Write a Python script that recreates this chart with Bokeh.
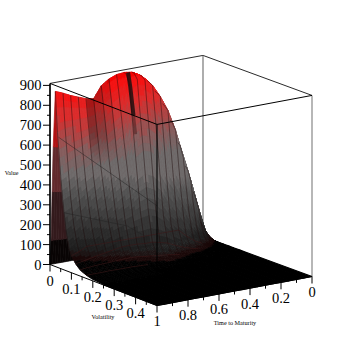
from bokeh.plotting import figure
from bokeh.models import ColumnDataSource
from bokeh.core.properties import value
from bokeh.embed import file_html
from bokeh.resources import INLINE
import numpy as np

# ---- data ----
maturity = [0, .05, .1, .15, .2, .25, .3, .35, .4, .45, .5, .55, .6, .65, .7, .75, .8, .85, .9, .95, 1]
volatility = [0, .005, .01, .015, .025, .035, .05, .06, .075, .09, .1, .12, .14, .17, .2, .25, .5]
z_t000 = [0] * 17
z_t005 = [0, 13, 38, 61, 90, 72, 42, 25, 12, 5, 2, 0, 0, 0, 0, 0, 0]
z_t010 = [0, 35, 105, 170, 250, 225, 175, 110, 50, 20, 10, 3, 0, 0, 0, 0, 0]
z_t015 = [0, 54, 162, 262, 385, 370, 318, 220, 110, 50, 28, 8, 1, 0, 0, 0, 0]
z_t020 = [0, 71, 214, 347, 510, 500, 445, 340, 190, 90, 48, 15, 4, 0, 0, 0, 0]
z_t025 = [0, 88, 265, 428, 630, 620, 588, 470, 290, 140, 78, 25, 6, 0, 0, 0, 0]
z_t030 = [0, 101, 302, 490, 720, 712, 696, 560, 370, 195, 115, 38, 11, 1, 0, 0, 0]
z_t035 = [0, 111, 332, 537, 790, 785, 773, 650, 440, 250, 150, 53, 16, 3, 0, 0, 0]
z_t040 = [0, 119, 357, 578, 850, 845, 835, 710, 520, 320, 200, 72, 22, 5, 0, 0, 0]
z_t045 = [0, 124, 372, 602, 885, 884, 870, 740, 560, 360, 235, 82, 27, 7, 0, 0, 0]
z_t050 = [0, 127, 381, 616, 906, 906, 880, 750, 570, 380, 250, 91, 32, 9, 0, 0, 0]
z_t055 = [0, 128, 383, 620, 912, 905, 860, 720, 540, 360, 240, 91, 36, 11, 1, 0, 0]
z_t060 = [0, 127, 381, 617, 908, 826, 681, 581, 454, 318, 227, 95, 41, 13, 2, 0, 0]
z_t065 = [0, 125, 375, 607, 893, 804, 652, 545, 420, 295, 214, 96, 45, 14, 3, 0, 0]
z_t070 = [0, 121, 364, 589, 866, 771, 624, 520, 390, 268, 204, 95, 45, 16, 3, 0, 0]
z_t075 = [0, 113, 339, 549, 808, 711, 566, 469, 347, 242, 186, 89, 44, 16, 4, 0, 0]
z_t080 = [0, 114, 342, 554, 815, 701, 546, 440, 318, 220, 163, 82, 41, 16, 5, 1, 0]
z_t085 = [0, 116, 349, 564, 830, 697, 523, 415, 291, 191, 141, 75, 40, 17, 6, 1, 0]
z_t090 = [0, 118, 355, 575, 845, 693, 507, 389, 254, 161, 118, 68, 38, 16, 6, 1, 0]
z_t095 = [0, 121, 363, 588, 864, 691, 484, 363, 225, 138, 99, 60, 35, 16, 7, 2, 0]
z_t100 = [0, 123, 370, 598, 880, 678, 466, 343, 202, 114, 85, 53, 31, 16, 7, 2, 0]

z_ticks = [0, 100, 200, 300, 400, 500, 600, 700, 800, 900]
z_minor = [50, 150, 250, 350, 450, 550, 650, 750, 850]
vol_ticks = [0, .1, .2, .3, .4]
vol_minor = [.05, .15, .25, .35, .45]
mat_ticks = [0, .2, .4, .6, .8, 1]
mat_minor = [.1, .3, .5, .7, .9]

# thin lines lying across the surface (maturity, volatility, value)
trace1_t, trace1_v, trace1_z = [1.0, .5], [.04, .143], [656, 282]
trace2_t, trace2_v, trace2_z = [.97, .6, .45], [.044, .075, .074], [274, 168, 80]
# dark fold running down from the top of the dome
fold_t, fold_v, fold_z = [.525, .525, .525], [.025, .035, .05], [909, 841, 704]
fold2_t, fold2_v, fold2_z = [.525, .525], [.05, .06], [704, 613]

# ---- projection of the box: floor corners on the page, height scale ----
Z = np.array([z_t000, z_t005, z_t010, z_t015, z_t020, z_t025, z_t030, z_t035, z_t040, z_t045, z_t050,
              z_t055, z_t060, z_t065, z_t070, z_t075, z_t080, z_t085, z_t090, z_t095, z_t100], dtype=float)
T = np.array(maturity)
V = np.array(volatility)
VMAX, ZTOP = .5, 910.0
C00 = np.array([202.5, 236.0])   # T=0, v=0
C10 = np.array([49.5, 264.0])    # T=1, v=0
C01 = np.array([311.5, 276.0])   # T=0, v=.5
C11 = np.array([156.5, 305.0])   # T=1, v=.5
ZS = .199


def proj(t, v, z=0.0):
    t = np.asarray(t, dtype=float)
    u = np.asarray(v, dtype=float) / VMAX
    z = np.asarray(z, dtype=float)
    x = (1-t)*(1-u)*C00[0] + t*(1-u)*C10[0] + (1-t)*u*C01[0] + t*u*C11[0]
    y = (1-t)*(1-u)*C00[1] + t*(1-u)*C10[1] + (1-t)*u*C01[1] + t*u*C11[1] - ZS*z
    return x, y


# ---- colours: banded by apparent height on the page, as the lit surface looks ----
RZ = [0, 10, 30, 60, 130, 230, 350, 450, 550, 650, 750, 850, 900]
RR = [0, 8, 32, 30, 42, 60, 85, 112, 135, 175, 220, 245, 245]
RG = [0, 2, 10, 28, 42, 60, 85, 108, 95, 70, 45, 20, 5]
RIDGE = 4
NOTCH = {13: .9, 14: .8, 15: .72}


def colour(xm, ym, z, i, j):
    if j < RIDGE:  # back of the wall, seen from below
        step = 50
        q = round(z / step) * step
        r, g = np.interp(q, RZ, RR), np.interp(q, RZ, RG)
        r, g = (r*.8, g*.42) if q > 60 else (r*.3, g*.2)
        return "#%02x%02x%02x" % (int(r), int(g), int(g*1.05))
    app = (263.5 - ym) / ZS
    raw = app
    if app > 450:
        app -= min(1.2 * max(xm - 75, 0), (app - 450))
    c = min(app, 1.6 * z)
    step = 25 if c < 100 else 50
    q = round(c / step) * step
    r, g = np.interp(q, RZ, RR), np.interp(q, RZ, RG)
    s0 = NOTCH.get(i, 1.0)
    s = 1 - (1 - s0) * float(np.clip((raw - 500) / 150, 0, 1))
    return "#%02x%02x%02x" % (int(r*s), int(g*s), int(g*s))


p = figure(width=347, height=347, x_range=(0, 347), y_range=(347, 0), toolbar_location=None,
           output_backend="svg", min_border=0)
p.axis.visible = False
p.grid.visible = False
p.outline_line_color = None
p.background_fill_color = "white"

# back edges of the box
for (a, b, col, w) in [((0, 0, ZTOP), (1, 0, ZTOP), "#2a2a2a", 1), ((0, 0, ZTOP), (0, VMAX, ZTOP), "#2a2a2a", 1),
                       ((0, 0, 0), (0, 0, ZTOP), "#777777", 1.2), ((0, VMAX, 0), (0, VMAX, ZTOP), "#999999", 1.4)]:
    x0, y0 = proj(*a)
    x1, y1 = proj(*b)
    p.line([float(x0), float(x1)], [float(y0), float(y1)], line_color=col, line_width=w)

# surface, painted back to front; each facet is cut into strips only to paint its colour bands
xs, ys, cols, lw = [], [], [], []
for i in range(len(T)-1):
    for j in range(len(V)-1):
        corner = [Z[i, j], Z[i+1, j], Z[i+1, j+1], Z[i, j+1]]
        flat = max(corner) < 3
        nv = 1 if flat or j < RIDGE else 5
        nt = 1 if flat else 3
        for a in range(nt):
            for b in range(nv):
                ss = np.array([a, a+1, a+1, a]) / nt
                rr = np.array([b, b, b+1, b+1]) / nv
                tt = T[i] + (T[i+1]-T[i]) * ss
                vv = V[j] + (V[j+1]-V[j]) * rr
                zz = (corner[0]*(1-ss)*(1-rr) + corner[1]*ss*(1-rr) + corner[2]*ss*rr + corner[3]*(1-ss)*rr)
                x, y = proj(tt, vv, zz)
                xs.append(x.tolist())
                ys.append(y.tolist())
                cols.append(colour(float(x.mean()), float(y.mean()), float(zz.mean()), i, j))
                lw.append(1.2 if flat else .7)
p.patches("x", "y", source=ColumnDataSource(dict(x=xs, y=ys, c=cols, w=lw)), fill_color="c", line_color="c",
          line_width="w")

# dark fold on the dome
x, y = proj(fold_t, fold_v, fold_z)
p.line(x.tolist(), y.tolist(), line_color="#241010", line_alpha=.88, line_width=4)
x, y = proj(fold2_t, fold2_v, fold2_z)
p.line(x.tolist(), y.tolist(), line_color="#301818", line_alpha=.45, line_width=3)

# constant-maturity mesh lines
mx, my = [], []
for i in range(len(T)):
    last = RIDGE
    for j in range(RIDGE, len(V)):
        if Z[i, j] > 12:
            last = j
    if last > RIDGE:
        x, y = proj(np.full(last-RIDGE+1, T[i]), V[RIDGE:last+1], Z[i, RIDGE:last+1])
        mx.append(x.tolist())
        my.append(y.tolist())
p.multi_line(mx, my, line_color="#1c0a0a", line_alpha=.45, line_width=1)

# constant-volatility mesh lines close to the floor
hx, hy = [], []
for j in range(10, 14):
    idx = [i for i in range(len(T)) if 12 < Z[i, j] < 130]
    if len(idx) > 1:
        x, y = proj(T[idx], np.full(len(idx), V[j]), Z[idx, j])
        hx.append(x.tolist())
        hy.append(y.tolist())
p.multi_line(hx, hy, line_color="#3c1818", line_alpha=.7, line_width=.8)

for tr_t, tr_v, tr_z in [(trace1_t, trace1_v, trace1_z), (trace2_t, trace2_v, trace2_z)]:
    x, y = proj(tr_t, tr_v, tr_z)
    p.line(x.tolist(), y.tolist(), line_color="#222222", line_alpha=.6, line_width=.8)

# front edges of the box
for (a, b, w) in [((1, 0, ZTOP), (1, VMAX, ZTOP), 1), ((1, VMAX, ZTOP), (0, VMAX, ZTOP), 1),
                  ((1, VMAX, 0), (1, VMAX, ZTOP), 1.1), ((1, 0, 0), (1, 0, ZTOP), 1.7),
                  ((1, 0, 0), (1, VMAX, 0), 1), ((1, VMAX, 0), (0, VMAX, 0), 1)]:
    x0, y0 = proj(*a)
    x1, y1 = proj(*b)
    p.line([float(x0), float(x1)], [float(y0), float(y1)], line_color="black", line_width=w)

# ticks
bx, by = proj(1, 0, 0)
bx = float(bx)
zt_y = [float(proj(1, 0, z)[1]) for z in z_ticks]
zm_y = [float(proj(1, 0, z)[1]) for z in z_minor]
p.segment([bx-7]*len(zt_y), zt_y, [bx]*len(zt_y), zt_y, line_color="black", line_width=1)
p.segment([bx-3]*len(zm_y), zm_y, [bx]*len(zm_y), zm_y, line_color="black", line_width=1)

serif = value("Liberation Serif")
p.text([bx-8.5]*len(zt_y), zt_y, text=[str(z) for z in z_ticks], text_font=serif, text_font_size="14.5px",
       text_align="right", text_baseline="middle", text_color="black")

vx, vy = proj(np.ones(len(vol_ticks)), vol_ticks)
p.segment(vx, vy, vx, vy+7, line_color="black", line_width=1)
vmx, vmy = proj(np.ones(len(vol_minor)), vol_minor)
p.segment(vmx, vmy, vmx, vmy+3.5, line_color="black", line_width=1)
p.text(vx, vy+16, text=[str(v) if v else "0" for v in vol_ticks], text_font=serif, text_font_size="14.5px",
       text_align="center", text_baseline="middle", text_color="black")

tx, ty = proj(mat_ticks, np.full(len(mat_ticks), VMAX))
p.segment(tx, ty, tx, ty+7, line_color="black", line_width=1)
tmx, tmy = proj(mat_minor, np.full(len(mat_minor), VMAX))
p.segment(tmx, tmy, tmx, tmy+3.5, line_color="black", line_width=1)
p.text(tx, ty+15.5, text=[str(t) for t in mat_ticks], text_font=serif, text_font_size="14.5px",
       text_align="center", text_baseline="middle", text_color="black")

# axis titles
p.text([11], [172], text=["Value"], text_font=serif, text_font_size="6px", text_align="center",
       text_baseline="middle", text_color="black")
p.text([102.5], [316], text=["Volatility"], text_font=serif, text_font_size="6.2px", text_align="center",
       text_baseline="middle", text_color="black")
p.text([234.5], [322], text=["Time to Maturity"], text_font=serif, text_font_size="6.2px", text_align="center",
       text_baseline="middle", text_color="black")

open("out.html", "w").write(file_html(p, INLINE))
